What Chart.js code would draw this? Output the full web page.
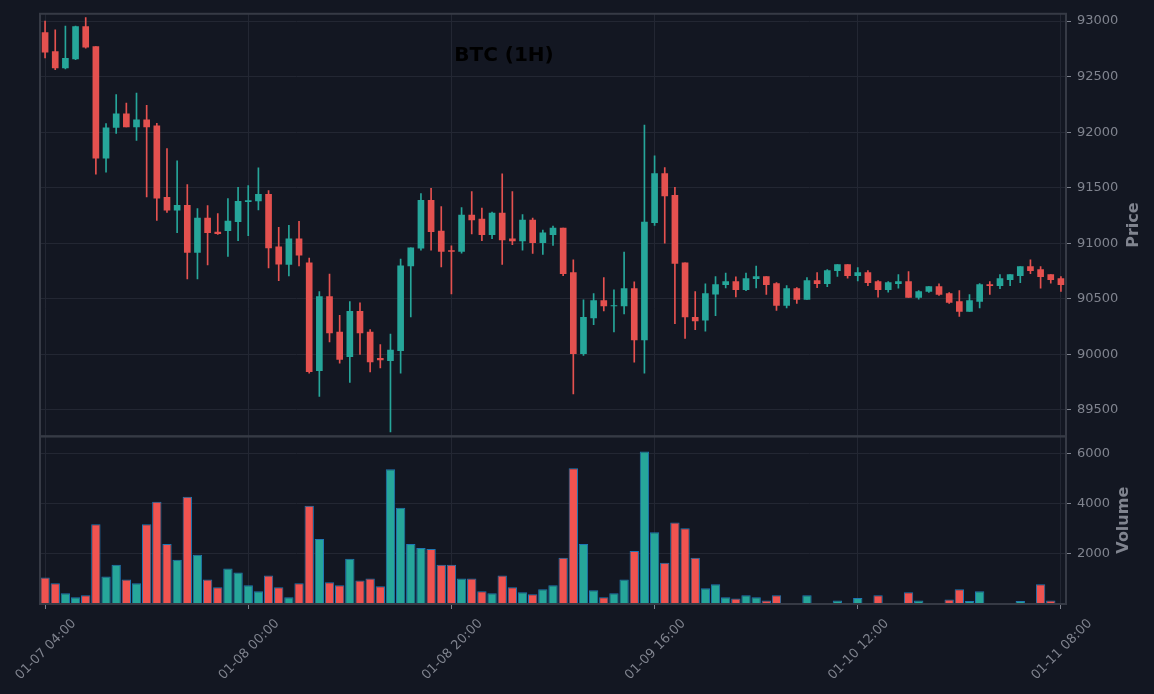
<!DOCTYPE html>
<html>
<head>
<meta charset="utf-8">
<title>BTC (1H)</title>
<script src="https://cdn.jsdelivr.net/npm/chart.js@4.4.1/dist/chart.umd.min.js"></script>
<style>
  html, body { margin: 0; padding: 0; background: #131722; }
  #wrap { width: 1154px; height: 694px; }
</style>
</head>
<body>
<div id="wrap"><canvas id="btcChart" width="1154" height="694"></canvas></div>
<script>
// hourly candles, 01-07 04:00 -> 01-11 08:00
const opens = [
  92896, 92726, 92577, 92658, 92949, 92771, 91765, 92042, 92164, 92048,
  92110, 92057, 91414, 91298, 91342, 90917, 91226, 91101, 91113, 91194,
  91375, 91381, 91441, 90967, 90810, 91039, 90824, 89854, 90521, 90200,
  89979, 90387, 90200, 89964, 89944, 90033, 90797, 90955, 91387, 91110,
  90935, 90926, 91253, 91217, 91078, 91271, 91039, 91021, 91208, 91006,
  91078, 91137, 90735, 90006, 90328, 90485, 90435, 90435, 90592, 90131,
  91185, 91628, 91432, 90824, 90334, 90307, 90542, 90628, 90655, 90583,
  90682, 90700, 90637, 90441, 90592, 90494, 90664, 90637, 90753, 90807,
  90708, 90735, 90655, 90583, 90637, 90655, 90512, 90566, 90610, 90548,
  90476, 90387, 90476, 90628, 90619, 90673, 90708, 90789, 90762, 90717,
  90682
];
const highs = [
  93000, 92920, 92955, 92955, 93030, 92771, 92077, 92339, 92262, 92351,
  92241, 92080, 91851, 91741, 91527, 91313, 91339, 91268, 91402, 91503,
  91518, 91679, 91473, 91143, 91161, 91197, 90866, 90566, 90723, 90351,
  90476, 90464, 90223, 90089, 90182, 90857, 90958, 91447, 91494, 91330,
  90976, 91322, 91464, 91316, 91280, 91625, 91464, 91259, 91226, 91119,
  91155, 91137, 90851, 90491, 90548, 90690, 90580, 90920, 90652, 92063,
  91786, 91682, 91503, 90824, 90566, 90634, 90700, 90732, 90697, 90732,
  90795, 90700, 90646, 90619, 90601, 90691, 90735, 90762, 90807, 90807,
  90780, 90753, 90664, 90655, 90717, 90744, 90574, 90610, 90634, 90557,
  90575, 90539, 90637, 90655, 90717, 90717, 90789, 90851, 90789, 90717,
  90700
];
const lows = [
  92667, 92563, 92568, 92652, 92756, 91622, 91640, 91988, 92048, 91926,
  91417, 91205, 91277, 91095, 90679, 90679, 90804, 91080, 90881, 91024,
  91069, 91301, 90777, 90664, 90705, 90795, 89830, 89622, 90113, 89920,
  89747, 90000, 89842, 89877, 89301, 89830, 90337, 90938, 90938, 90787,
  90545, 90911, 91083, 91024, 91042, 90810, 90988, 90938, 90908, 90899,
  90980, 90708, 89643, 89991, 90268, 90390, 90203, 90363, 89929, 89830,
  91161, 91000, 90277, 90143, 90223, 90208, 90348, 90598, 90518, 90574,
  90598, 90539, 90396, 90417, 90458, 90494, 90601, 90610, 90702, 90685,
  90661, 90619, 90515, 90560, 90595, 90512, 90497, 90557, 90530, 90458,
  90342, 90387, 90417, 90539, 90592, 90619, 90646, 90726, 90595, 90640,
  90566
];
const closes = [
  92720, 92577, 92664, 92949, 92765, 91765, 92039, 92164, 92048, 92110,
  92048, 91405, 91298, 91342, 90917, 91226, 91095, 91086, 91200, 91378,
  91383, 91441, 90958, 90812, 91039, 90893, 89845, 90521, 90194, 89954,
  90387, 90194, 89933, 89950, 90039, 90797, 90958, 91387, 91104, 90926,
  90926, 91253, 91211, 91078, 91271, 91030, 91021, 91208, 91006, 91093,
  91137, 90726, 90006, 90334, 90485, 90435, 90440, 90592, 90131, 91191,
  91628, 91426, 90819, 90337, 90301, 90548, 90628, 90655, 90583, 90682,
  90700, 90628, 90441, 90592, 90494, 90664, 90637, 90753, 90807, 90708,
  90735, 90646, 90583, 90646, 90655, 90512, 90566, 90610, 90539, 90467,
  90387, 90485, 90628, 90619, 90682, 90717, 90789, 90753, 90700, 90673,
  90628
];
const volumes = [
  1059, 823, 431, 274, 353, 3176, 1098, 1568, 980, 823,
  3176, 4078, 2392, 1764, 4274, 1960, 980, 667, 1411, 1255,
  745, 510, 1137, 667, 274, 823, 3921, 2588, 863, 745,
  1804, 941, 1019, 706, 5372, 3843, 2392, 2235, 2196, 1568,
  1568, 1019, 1019, 510, 431, 1137, 667, 471, 392, 588,
  745, 1843, 5411, 2392, 549, 274, 431, 980, 2117, 6078,
  2862, 1647, 3254, 3019, 1843, 627, 784, 274, 222, 353,
  274, 144, 353, 40, 40, 353, 40, 40, 144, 40,
  235, 40, 353, 40, 40, 471, 144, 5, 5, 183,
  588, 118, 510, 5, 40, 5, 118, 40, 784, 144,
  40
];
const tickLabels = ['01-07 04:00', '01-08 00:00', '01-08 20:00', '01-09 16:00', '01-10 12:00', '01-11 08:00'];
const priceTicks = [89500, 90000, 90500, 91000, 91500, 92000, 92500, 93000];
const volumeTicks = [2000, 4000, 6000];

// one category per hour
const categories = [];
for (let i = 0; i < opens.length; i++) {
  const d = new Date(Date.UTC(2025, 0, 7, 4 + i));
  const pad = n => String(n).padStart(2, '0');
  categories.push(`${pad(d.getUTCMonth() + 1)}-${pad(d.getUTCDate())} ${pad(d.getUTCHours())}:00`);
}

const upColor = '#26a69a';
const downColor = '#ef5350';
const candleDown = '#e4514f';
const gridColor = '#232733';
const tickColor = '#7d818c';
const labelColor = '#80848f';
const frameColor = '#363a45';
const tickFont = { family: 'DejaVu Sans', size: 13 };

const isUp = opens.map((o, i) => closes[i] >= o);
const candleColors = isUp.map(up => up ? upColor : candleDown);
const volumeColors = isUp.map(up => up ? upColor : downColor);

// frame around both panels + title and axis labels
const panelDecor = {
  id: 'panelDecor',
  afterDatasetsDraw(chart) {
    const { ctx, chartArea, scales } = chart;
    ctx.save();
    ctx.strokeStyle = frameColor;
    ctx.lineWidth = 2;
    [scales.y, scales.yVol].forEach(s => {
      ctx.strokeRect(chartArea.left, s.top, chartArea.right - chartArea.left, s.bottom - s.top);
    });

    ctx.fillStyle = '#000000';
    ctx.font = 'bold 20px "DejaVu Sans"';
    ctx.textAlign = 'center';
    ctx.textBaseline = 'middle';
    ctx.fillText('BTC (1H)', 504, 56);

    ctx.fillStyle = labelColor;
    ctx.font = 'bold 16px "DejaVu Sans"';
    const axisTitle = (text, x, y) => {
      ctx.save();
      ctx.translate(x, y);
      ctx.rotate(-Math.PI / 2);
      ctx.fillText(text, 0, 0);
      ctx.restore();
    };
    axisTitle('Price', 1134, (scales.y.top + scales.y.bottom) / 2);
    axisTitle('Volume', 1124, (scales.yVol.top + scales.yVol.bottom) / 2);
    ctx.restore();
  }
};

new Chart(document.getElementById('btcChart'), {
  type: 'bar',
  data: {
    labels: categories,
    datasets: [
      {
        label: 'body',
        data: opens.map((o, i) => [o, closes[i]]),
        backgroundColor: candleColors,
        barThickness: 6,
        grouped: false,
        yAxisID: 'y',
        order: 1
      },
      {
        label: 'wick',
        data: lows.map((l, i) => [l, highs[i]]),
        backgroundColor: candleColors,
        barThickness: 1,
        grouped: false,
        yAxisID: 'y',
        order: 2
      },
      {
        label: 'Volume',
        data: volumes,
        backgroundColor: volumeColors,
        borderColor: '#1f77b4',
        borderWidth: 1,
        borderSkipped: false,
        categoryPercentage: 1,
        barPercentage: 0.92,
        grouped: false,
        yAxisID: 'yVol',
        order: 3
      }
    ]
  },
  options: {
    responsive: false,
    animation: false,
    layout: { padding: { left: 40, top: 9 } },
    plugins: {
      legend: { display: false },
      tooltip: { enabled: false }
    },
    scales: {
      x: {
        offset: true,
        border: { display: false },
        grid: { offset: false, color: gridColor, tickColor: tickColor, tickLength: 5 },
        afterBuildTicks: axis => { axis.ticks = axis.ticks.filter(t => t.value % 20 === 0); },
        afterFit: axis => {
          axis.height = 90;
          axis.paddingLeft = 0;
          axis.paddingRight = 0;
        },
        ticks: {
          autoSkip: false,
          minRotation: 45,
          maxRotation: 45,
          labelOffset: 29,
          padding: 7,
          color: labelColor,
          font: tickFont,
          callback: value => tickLabels[value / 20]
        }
      },
      y: {
        position: 'right',
        stack: 'panels',
        stackWeight: 426,
        min: 89262,
        max: 93065,
        border: { display: false },
        grid: { color: gridColor, tickColor: tickColor, tickLength: 5 },
        afterBuildTicks: s => { s.ticks = priceTicks.map(v => ({ value: v })); },
        afterFit: s => { s.width = 88; },
        ticks: { padding: 6, color: labelColor, font: tickFont, callback: v => String(v) }
      },
      yVol: {
        position: 'right',
        stack: 'panels',
        stackWeight: 169,
        min: 0,
        max: 6686,
        border: { display: false },
        grid: { color: gridColor, tickColor: tickColor, tickLength: 5 },
        afterBuildTicks: s => { s.ticks = volumeTicks.map(v => ({ value: v })); },
        afterFit: s => { s.width = 88; },
        ticks: { padding: 6, color: labelColor, font: tickFont, callback: v => String(v) }
      }
    }
  },
  plugins: [panelDecor]
});
</script>
</body>
</html>
